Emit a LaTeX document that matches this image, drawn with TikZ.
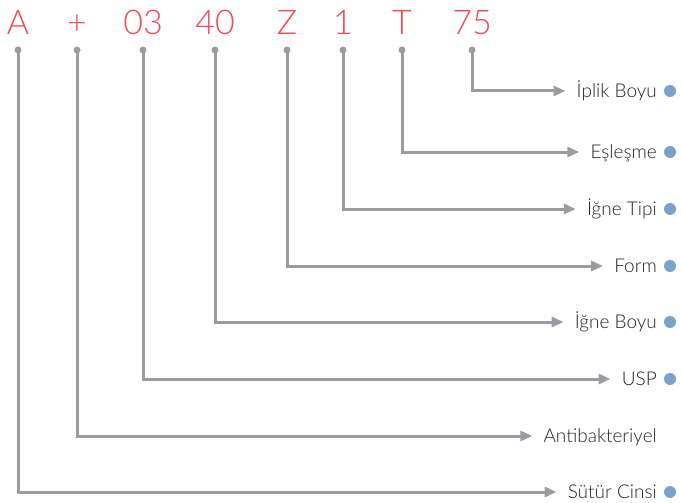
\documentclass[tikz,border=0pt]{standalone}
\usepackage{fontspec}
\setmainfont{Lato}[UprightFont=*-Light]
\usetikzlibrary{arrows.meta}
\definecolor{codered}{HTML}{EE4B55}
\definecolor{linegray}{HTML}{9B9BA0}
\definecolor{dotblue}{HTML}{7BA1CD}
\definecolor{labelgray}{HTML}{222222}
\tikzset{>={Triangle[length=12pt,width=10pt]}}

\begin{document}
\begin{tikzpicture}[x=1pt, y=-1pt,
  code/.style={text=codered, font=\fontsize{34}{34}\selectfont, inner sep=0pt, anchor=base},
  part/.style={text=labelgray, font=\fontsize{19}{19}\selectfont, inner sep=0pt, text height=13pt, text depth=0pt, anchor=east},
  link/.style={linegray, line width=3pt, ->, shorten >=11pt},
  pin/.style={fill=linegray}
  ]
\useasboundingbox (0, 0) rectangle (681, 503);
% code letters
\node[code] (cA) at (18, 35) {A};
\node[code] (cPlus) at (77, 35) {+};
\node[code] (c03) at (143, 35) {03};
\node[code] (c40) at (215, 35) {40};
\node[code] (cZ) at (287, 35) {Z};
\node[code] (c1) at (343, 35) {1};
\node[code] (cT) at (402, 35) {T};
\node[code] (c75) at (472, 35) {75};
% pins below the letters
\coordinate (dA) at (18, 50);
\coordinate (dPlus) at (77, 50);
\coordinate (d03) at (143, 50);
\coordinate (d40) at (215, 50);
\coordinate (dZ) at (287, 50);
\coordinate (d1) at (343, 50);
\coordinate (dT) at (402, 50);
\coordinate (d75) at (472, 50);
% labels
\node[part] (lIplik) at (657, 91) {İplik Boyu};
\node[part] (lEsles) at (657, 152) {Eşleşme};
\node[part] (lTip) at (657, 209) {İğne Tipi};
\node[part] (lForm) at (657, 266) {Form};
\node[part] (lBoy) at (657, 322) {İğne Boyu};
\node[part] (lUsp) at (657, 379) {USP};
\node[part] (lAnti) at (657, 436) {Antibakteriyel};
\node[part] (lSutur) at (657, 492) {Sütür Cinsi};
% connectors
\draw[link] (d75) |- (lIplik.west);
\draw[link] (dT) |- (lEsles.west);
\draw[link] (d1) |- (lTip.west);
\draw[link] (dZ) |- (lForm.west);
\draw[link] (d40) |- (lBoy.west);
\draw[link] (d03) |- (lUsp.west);
\draw[link] (dPlus) |- (lAnti.west);
\draw[link] (dA) |- (lSutur.west);
\fill[pin] (dA) circle (3.5);
\fill[pin] (dPlus) circle (3.5);
\fill[pin] (d03) circle (3.5);
\fill[pin] (d40) circle (3.5);
\fill[pin] (dZ) circle (3.5);
\fill[pin] (d1) circle (3.5);
\fill[pin] (dT) circle (3.5);
\fill[pin] (d75) circle (3.5);
% blue dots
\fill[dotblue] ([xshift=13]lIplik.east) circle (6);
\fill[dotblue] ([xshift=13]lEsles.east) circle (6);
\fill[dotblue] ([xshift=13]lTip.east) circle (6);
\fill[dotblue] ([xshift=13]lForm.east) circle (6);
\fill[dotblue] ([xshift=13]lBoy.east) circle (6);
\fill[dotblue] ([xshift=13]lUsp.east) circle (6);
\fill[dotblue] ([xshift=13]lSutur.east) circle (6);

\end{tikzpicture}
\end{document}
